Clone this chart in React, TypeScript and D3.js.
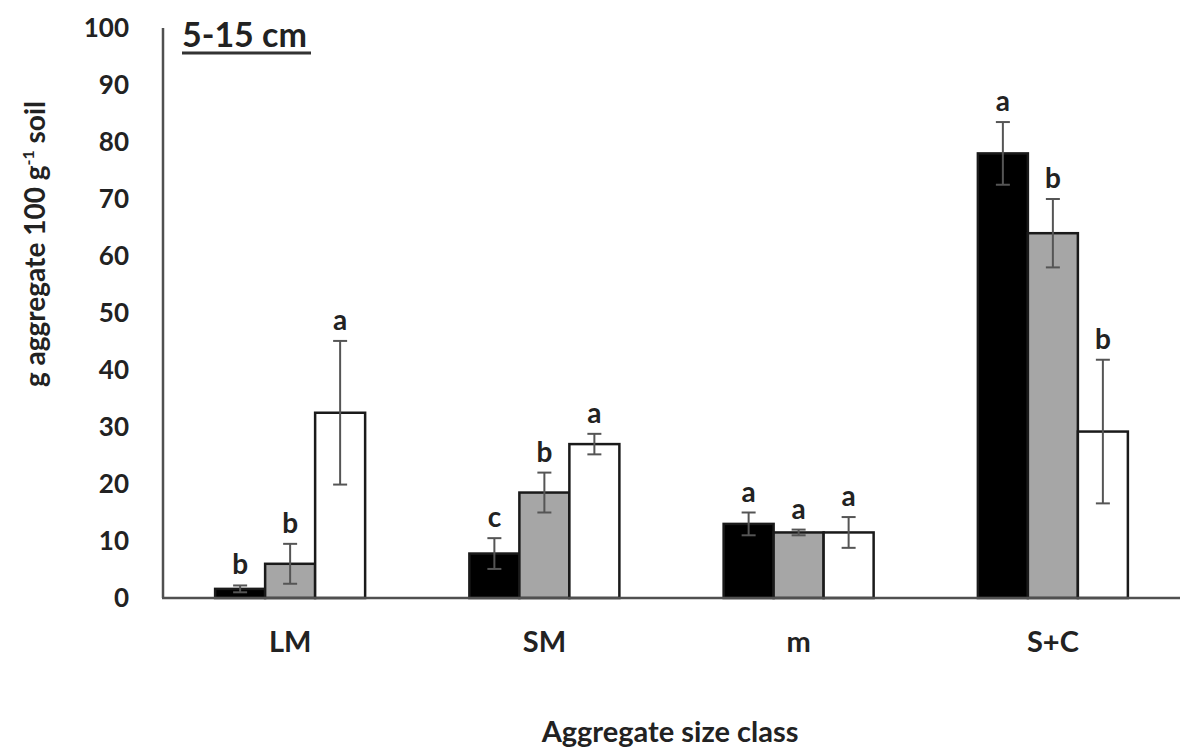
import * as d3 from 'd3';

const categories = ['LM', 'SM', 'm', 'S+C'];
const series = ['black', 'gray', 'white'];
const fills = ['#000000', '#a6a6a6', '#ffffff'];

const blackVals = [1.6, 7.8, 13, 78];
const grayVals = [6, 18.5, 11.5, 64];
const whiteVals = [32.5, 27, 11.5, 29.2];

const blackErr = [0.6, 2.7, 2, 5.5];
const grayErr = [3.5, 3.5, 0.5, 6];
const whiteErr = [12.6, 1.8, 2.7, 12.6];

const blackLetters = ['b', 'c', 'a', 'a'];
const grayLetters = ['b', 'b', 'a', 'b'];
const whiteLetters = ['a', 'a', 'a', 'b'];

const yTicks = [0, 10, 20, 30, 40, 50, 60, 70, 80, 90, 100];

const values = [blackVals, grayVals, whiteVals];
const errs = [blackErr, grayErr, whiteErr];
const letters = [blackLetters, grayLetters, whiteLetters];

const W = 1186;
const H = 752;
const FONT = 'Lato, "Open Sans", sans-serif';

export default function App() {
  const x = d3.scaleBand<string>().domain(categories).range([163, 1180]);
  const xs = d3.scaleBand<string>().domain(series).range([-75, 75]);
  const y = d3.scaleLinear().domain([0, 100]).range([598, 28]);
  const axisColor = '#505050';

  return (
    <div style={{ position: 'absolute', left: 0, top: 0 }}>
      <svg width={W} height={H} style={{ display: 'block', background: '#fff' }} fontFamily={FONT}>
        {/* bars */}
        {categories.map((c, ci) => (
          <g key={c} transform={`translate(${x(c)! + x.bandwidth() / 2},0)`}>
            {series.map((s, si) => {
              const v = values[si][ci];
              const e = errs[si][ci];
              const bx = xs(s)!;
              const bw = xs.bandwidth();
              const cx = bx + bw / 2;
              return (
                <g key={s}>
                  <rect x={bx} y={y(v)} width={bw} height={y(0) - y(v)} fill={fills[si]} stroke="#1a1a1a" strokeWidth={2.5} />
                  <g stroke="#555" strokeWidth={2}>
                    <line x1={cx} x2={cx} y1={y(v + e)} y2={y(Math.max(0, v - e))} />
                    <line x1={cx - 7} x2={cx + 7} y1={y(v + e)} y2={y(v + e)} />
                    <line x1={cx - 7} x2={cx + 7} y1={y(Math.max(0, v - e))} y2={y(Math.max(0, v - e))} />
                  </g>
                  <text x={cx} y={y(v + e) - 11} textAnchor="middle" fontSize={28} fontWeight={700} fill="#222">
                    {letters[si][ci]}
                  </text>
                </g>
              );
            })}
          </g>
        ))}

        {/* axes */}
        <line x1={163} x2={163} y1={y(100)} y2={y(0)} stroke={axisColor} strokeWidth={2.5} />
        <line x1={162} x2={1180} y1={y(0)} y2={y(0)} stroke={axisColor} strokeWidth={2.5} />

        {yTicks.map((t) => (
          <text key={t} x={129} y={y(t)} dy="0.36em" textAnchor="end" fontSize={26} fontWeight={700} fill="#222">
            {t}
          </text>
        ))}

        {categories.map((c) => (
          <text key={c} x={x(c)! + x.bandwidth() / 2} y={652} textAnchor="middle" fontSize={29} fontWeight={700} fill="#222">
            {c}
          </text>
        ))}

        <text x={670} y={742} textAnchor="middle" fontSize={29} fontWeight={700} fill="#222">
          Aggregate size class
        </text>

        <text transform="translate(45,244) rotate(-90)" textAnchor="middle" fontSize={28} fontWeight={700} fill="#222">
          g aggregate 100 g<tspan dy={-11} fontSize={16}>-1</tspan><tspan dy={11}> soil</tspan>
        </text>

        <text x={182} y={47} fontSize={34} fontWeight={700} fill="#222">5-15 cm</text>
        <line x1={182} x2={311} y1={53} y2={53} stroke="#333" strokeWidth={3} />
      </svg>
    </div>
  );
}
